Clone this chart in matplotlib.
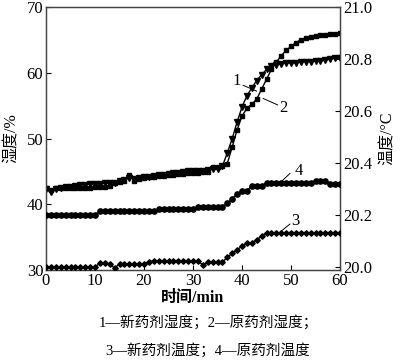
import matplotlib
matplotlib.use("Agg")
import matplotlib.pyplot as plt
import numpy as np

plt.rcParams['font.family'] = ['Liberation Serif', 'Noto Sans CJK SC']
plt.rcParams['mathtext.fontset'] = 'stix'

# time in minutes
t = list(range(0, 61))

# 1 - new agent humidity (%)
hum_new = [42.3, 41.8, 42.3, 42.5, 42.6, 42.7, 42.8, 43.0, 43.0, 43.1,
           43.1, 43.1, 43.2, 43.2, 43.3, 43.5, 43.7, 44.0, 43.9, 44.0,
           44.1, 44.2, 44.3, 44.4, 44.5, 44.6, 44.7, 44.8, 44.9, 45.0,
           45.0, 45.1, 45.1, 45.2, 45.3, 45.4, 45.8, 47.8, 50.0, 52.5,
           54.8, 56.5, 57.7, 58.8, 59.7, 60.5, 61.0, 61.2, 61.4, 61.5,
           61.5, 61.5, 61.6, 61.7, 61.7, 61.8, 61.8, 61.9, 62.1, 62.2,
           62.3]

# 2 - original agent humidity (%)
hum_old = [42.5, 42.2, 42.4, 42.4, 42.4, 42.5, 42.5, 42.5, 42.5, 42.5,
           42.6, 42.6, 42.7, 42.8, 43.2, 43.4, 43.5, 44.4, 43.6, 43.9,
           44.0, 44.1, 44.2, 44.3, 44.3, 44.4, 44.5, 44.6, 44.6, 44.7,
           44.8, 44.8, 44.9, 44.9, 45.6, 45.7, 45.8, 46.2, 48.7, 51.3,
           53.4, 54.6, 55.2, 56.0, 57.5, 59.0, 60.5, 61.6, 62.6, 63.4,
           64.0, 64.6, 65.0, 65.3, 65.5, 65.6, 65.7, 65.8, 65.9, 65.9,
           66.0]

# 3 - new agent temperature (°C)
temp_new = [20.0, 20.0, 20.0, 20.0, 20.0, 20.0, 20.0, 20.0, 20.0, 20.0,
            20.0, 20.014, 20.014, 20.012, 19.995, 20.012, 20.012, 20.012, 20.012, 20.012,
            20.012, 20.02, 20.023, 20.023, 20.023, 20.023, 20.023, 20.023, 20.023, 20.023,
            20.023, 20.023, 20.008, 20.018, 20.018, 20.018, 20.018, 20.037, 20.052, 20.065,
            20.081, 20.091, 20.093, 20.105, 20.118, 20.132, 20.132, 20.132, 20.132, 20.132,
            20.132, 20.132, 20.132, 20.132, 20.132, 20.132, 20.132, 20.132, 20.132, 20.132,
            20.132]

# 4 - original agent temperature (°C)
temp_old = [20.20, 20.20, 20.20, 20.20, 20.20, 20.20, 20.20, 20.20, 20.20, 20.20,
            20.20, 20.215, 20.215, 20.215, 20.215, 20.215, 20.215, 20.215, 20.215, 20.215,
            20.215, 20.215, 20.215, 20.222, 20.222, 20.222, 20.222, 20.222, 20.222, 20.222,
            20.222, 20.232, 20.232, 20.232, 20.232, 20.232, 20.232, 20.245, 20.262, 20.28,
            20.292, 20.292, 20.313, 20.313, 20.313, 20.322, 20.322, 20.322, 20.322, 20.322,
            20.322, 20.322, 20.322, 20.322, 20.322, 20.332, 20.332, 20.332, 20.32, 20.32,
            20.32]

xticks = [0, 10, 20, 30, 40, 50, 60]
lticks_all = [30, 40, 50, 60, 70]
rticks = [20.0, 20.2, 20.4, 20.6, 20.8, 21.0]

fig = plt.figure(figsize=(4.0, 3.61), dpi=100)
ax = fig.add_axes([0.115, 0.252, 0.735, 0.7286])
ax2 = ax.twinx()

ax.plot(t, hum_new, color='black', lw=1.0, marker='v', ms=3.8, zorder=3)
ax.plot(t, hum_old, color='black', lw=1.0, marker='s', ms=3.4, zorder=3)
ax2.plot(t, temp_new, color='black', lw=1.0, marker='D', ms=2.8, zorder=3)
ax2.plot(t, temp_old, color='black', lw=1.0, marker='o', ms=3.8, zorder=3)

ax.set_xlim(0, 60)
ax.set_ylim(30, 70)
ax2.set_ylim(19.988, 21.0)

ax.set_xticks(xticks)
ax.set_yticks(lticks_all)
ax2.set_yticks(rticks)
ax2.set_yticklabels([f"{v:.1f}" for v in rticks])

for a in (ax, ax2):
    a.tick_params(direction='in', length=3.5, width=0.8, labelsize=12, pad=2)
    for s in a.spines.values():
        s.set_linewidth(0.9)
        s.set_color('#444444')

ax.set_xlabel('时间/min', fontsize=11.5, fontweight='bold', labelpad=1)
ax.set_ylabel('湿度/%', fontsize=11.5, labelpad=5)
ax2.set_ylabel('温度/°C', fontsize=11.5, labelpad=6)

# curve labels with leader lines
labels = ['1', '2', '4', '3']
text_pos = [(38.9, 58.7), (48.4, 54.7), (51.5, 45.1), (50.9, 37.5)]
line_start = [(40.2, 58.1), (47.3, 55.1), (49.8, 44.7), (49.8, 37.0)]
line_end = [(43.0, 57.2), (44.3, 56.1), (48.1, 43.5), (47.8, 35.8)]
for lab, tp, ls, le in zip(labels, text_pos, line_start, line_end):
    ax.annotate('', xy=le, xytext=ls,
                arrowprops=dict(arrowstyle='-', lw=0.7, color='black',
                                shrinkA=0, shrinkB=0))
    ax.text(tp[0], tp[1], lab, fontsize=12, ha='center', va='center')

fig.text(0.52, 1 - 322 / 361, '1—新药剂湿度；2—原药剂湿度；', ha='center', va='center', fontsize=10.5)
fig.text(0.52, 1 - 350 / 361, '3—新药剂温度；4—原药剂温度', ha='center', va='center', fontsize=10.5)

fig.savefig('out.png', dpi=100)
